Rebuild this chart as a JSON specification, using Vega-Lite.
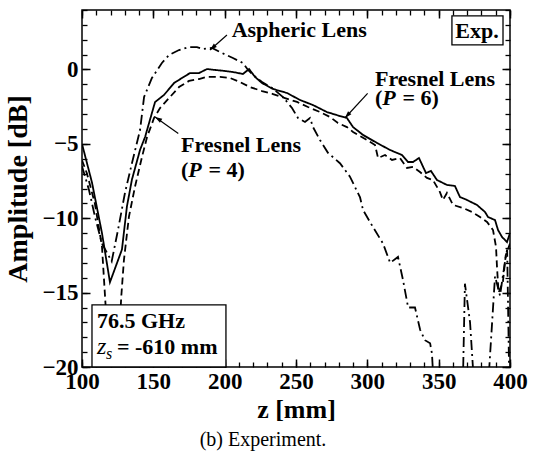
{
  "$schema": "https://vega.github.io/schema/vega-lite/v6.json",
  "width": 428,
  "height": 357,
  "autosize": {"type": "none"},
  "padding": {"left": 82, "top": 10, "right": 30, "bottom": 85},
  "background": "white",
  "title": {"text": "(b) Experiment.", "orient": "bottom", "anchor": "middle", "frame": "group", "dx": -33, "offset": 8, "font": "Liberation Serif", "fontSize": 20, "fontWeight": "normal", "color": "black"},
  "config": {
    "font": "Liberation Serif",
    "view": {"stroke": "black", "strokeWidth": 1.5},
    "axis": {"grid": false, "domain": false, "labelColor": "black", "titleColor": "black", "tickColor": "black"}
  },
  "datasets": {
    "curves": [
      {"s": "P6", "z": 100, "a": -5.0}, {"s": "P6", "z": 107, "a": -7.6}, {"s": "P6", "z": 114, "a": -11.0}, {"s": "P6", "z": 119.6, "a": -14.3}, {"s": "P6", "z": 128, "a": -12.1}, {"s": "P6", "z": 131.5, "a": -9.2}, {"s": "P6", "z": 135, "a": -7.4}, {"s": "P6", "z": 140.7, "a": -5.4}, {"s": "P6", "z": 144.2, "a": -4.54}, {"s": "P6", "z": 151.2, "a": -2.19}, {"s": "P6", "z": 157.5, "a": -1.71}, {"s": "P6", "z": 164.5, "a": -0.91}, {"s": "P6", "z": 170.1, "a": -0.57}, {"s": "P6", "z": 175.7, "a": -0.24}, {"s": "P6", "z": 182, "a": -0.24}, {"s": "P6", "z": 187.6, "a": 0.03}, {"s": "P6", "z": 193.2, "a": -0.03}, {"s": "P6", "z": 200.2, "a": -0.1}, {"s": "P6", "z": 205.8, "a": -0.17}, {"s": "P6", "z": 212.8, "a": -0.3}, {"s": "P6", "z": 217.1, "a": 0.03}, {"s": "P6", "z": 221.3, "a": -0.5}, {"s": "P6", "z": 226.2, "a": -0.91}, {"s": "P6", "z": 233.9, "a": -1.31}, {"s": "P6", "z": 243.7, "a": -1.58}, {"s": "P6", "z": 252.8, "a": -2.05}, {"s": "P6", "z": 261.9, "a": -2.39}, {"s": "P6", "z": 271.7, "a": -2.86}, {"s": "P6", "z": 280.8, "a": -3.13}, {"s": "P6", "z": 285.7, "a": -3.26}, {"s": "P6", "z": 290, "a": -3.87}, {"s": "P6", "z": 297, "a": -4.4}, {"s": "P6", "z": 306.8, "a": -4.94}, {"s": "P6", "z": 315.9, "a": -5.41}, {"s": "P6", "z": 324.3, "a": -5.75}, {"s": "P6", "z": 328.5, "a": -6.22}, {"s": "P6", "z": 332, "a": -6.22}, {"s": "P6", "z": 336.2, "a": -5.95}, {"s": "P6", "z": 341.1, "a": -6.96}, {"s": "P6", "z": 344.6, "a": -6.82}, {"s": "P6", "z": 348.8, "a": -7.43}, {"s": "P6", "z": 355.8, "a": -7.76}, {"s": "P6", "z": 361.4, "a": -7.83}, {"s": "P6", "z": 364.9, "a": -8.57}, {"s": "P6", "z": 369.8, "a": -8.77}, {"s": "P6", "z": 376.9, "a": -9.11}, {"s": "P6", "z": 382.5, "a": -9.58}, {"s": "P6", "z": 384.6, "a": -9.92}, {"s": "P6", "z": 389.5, "a": -10.12}, {"s": "P6", "z": 391.6, "a": -10.79}, {"s": "P6", "z": 394.4, "a": -11.26}, {"s": "P6", "z": 397.9, "a": -11.6}, {"s": "P6", "z": 400, "a": -11.0},
      {"s": "P4", "z": 100, "a": -6.1}, {"s": "P4", "z": 103.5, "a": -7.0}, {"s": "P4", "z": 109, "a": -9.0}, {"s": "P4", "z": 114, "a": -11.9}, {"s": "P4", "z": 116.5, "a": -15.8}, {"s": "P4", "z": 119, "a": -19.5}, {"s": "P4", "z": 122, "a": -20.5}, {"s": "P4", "z": 126, "a": -18.0}, {"s": "P4", "z": 127.5, "a": -15.3}, {"s": "P4", "z": 129.4, "a": -12.8}, {"s": "P4", "z": 132.9, "a": -9.9}, {"s": "P4", "z": 137.1, "a": -7.9}, {"s": "P4", "z": 142, "a": -5.9}, {"s": "P4", "z": 145.6, "a": -4.54}, {"s": "P4", "z": 150.5, "a": -3.26}, {"s": "P4", "z": 154.7, "a": -2.59}, {"s": "P4", "z": 161, "a": -1.92}, {"s": "P4", "z": 168, "a": -1.18}, {"s": "P4", "z": 175, "a": -0.77}, {"s": "P4", "z": 182, "a": -0.64}, {"s": "P4", "z": 187.6, "a": -0.5}, {"s": "P4", "z": 196.7, "a": -0.5}, {"s": "P4", "z": 203.7, "a": -0.57}, {"s": "P4", "z": 210.7, "a": -0.84}, {"s": "P4", "z": 217.8, "a": -1.18}, {"s": "P4", "z": 226.2, "a": -1.45}, {"s": "P4", "z": 233.9, "a": -1.65}, {"s": "P4", "z": 242.3, "a": -1.92}, {"s": "P4", "z": 250.7, "a": -2.18}, {"s": "P4", "z": 258.4, "a": -2.52}, {"s": "P4", "z": 266.8, "a": -2.86}, {"s": "P4", "z": 273.8, "a": -3.19}, {"s": "P4", "z": 279.4, "a": -3.6}, {"s": "P4", "z": 285.7, "a": -3.87}, {"s": "P4", "z": 290, "a": -4.2}, {"s": "P4", "z": 299.8, "a": -4.74}, {"s": "P4", "z": 305.4, "a": -5.08}, {"s": "P4", "z": 307.5, "a": -5.95}, {"s": "P4", "z": 312.4, "a": -5.75}, {"s": "P4", "z": 317.3, "a": -6.08}, {"s": "P4", "z": 322.9, "a": -5.95}, {"s": "P4", "z": 327.8, "a": -6.62}, {"s": "P4", "z": 332, "a": -6.55}, {"s": "P4", "z": 336.9, "a": -6.89}, {"s": "P4", "z": 341.8, "a": -7.29}, {"s": "P4", "z": 346, "a": -7.43}, {"s": "P4", "z": 350.9, "a": -8.24}, {"s": "P4", "z": 353, "a": -8.77}, {"s": "P4", "z": 355.8, "a": -8.3}, {"s": "P4", "z": 360, "a": -9.1}, {"s": "P4", "z": 367, "a": -9.31}, {"s": "P4", "z": 373.4, "a": -9.58}, {"s": "P4", "z": 379, "a": -9.92}, {"s": "P4", "z": 383.9, "a": -10.25}, {"s": "P4", "z": 388.1, "a": -10.79}, {"s": "P4", "z": 390.2, "a": -11.93}, {"s": "P4", "z": 390.9, "a": -13.3}, {"s": "P4", "z": 392, "a": -15.0}, {"s": "P4", "z": 395, "a": -14.3}, {"s": "P4", "z": 397, "a": -12.5}, {"s": "P4", "z": 400, "a": -11.7},
      {"s": "Asph", "z": 100, "a": -6.5}, {"s": "Asph", "z": 104.9, "a": -8.1}, {"s": "Asph", "z": 109.1, "a": -9.9}, {"s": "Asph", "z": 114, "a": -11.7}, {"s": "Asph", "z": 120.8, "a": -12.9}, {"s": "Asph", "z": 125.2, "a": -10.8}, {"s": "Asph", "z": 130.1, "a": -8.3}, {"s": "Asph", "z": 135, "a": -6.3}, {"s": "Asph", "z": 140.7, "a": -4.07}, {"s": "Asph", "z": 143.5, "a": -1.85}, {"s": "Asph", "z": 149, "a": -0.57}, {"s": "Asph", "z": 156, "a": 0.44}, {"s": "Asph", "z": 161, "a": 0.97}, {"s": "Asph", "z": 168, "a": 1.31}, {"s": "Asph", "z": 175, "a": 1.51}, {"s": "Asph", "z": 180.6, "a": 1.51}, {"s": "Asph", "z": 184.8, "a": 1.38}, {"s": "Asph", "z": 191.1, "a": 1.45}, {"s": "Asph", "z": 198.1, "a": 1.11}, {"s": "Asph", "z": 205.8, "a": 0.77}, {"s": "Asph", "z": 212.8, "a": 0.44}, {"s": "Asph", "z": 216.4, "a": -0.03}, {"s": "Asph", "z": 219.9, "a": -0.37}, {"s": "Asph", "z": 226.2, "a": -0.84}, {"s": "Asph", "z": 233.2, "a": -1.24}, {"s": "Asph", "z": 240.9, "a": -1.85}, {"s": "Asph", "z": 247.2, "a": -2.59}, {"s": "Asph", "z": 251.4, "a": -3.26}, {"s": "Asph", "z": 256.3, "a": -3.53}, {"s": "Asph", "z": 259.8, "a": -3.26}, {"s": "Asph", "z": 261.9, "a": -3.87}, {"s": "Asph", "z": 266.8, "a": -4.74}, {"s": "Asph", "z": 272.4, "a": -5.6}, {"s": "Asph", "z": 280.8, "a": -6.3}, {"s": "Asph", "z": 287.8, "a": -7.2}, {"s": "Asph", "z": 294.9, "a": -8.6}, {"s": "Asph", "z": 297, "a": -9.45}, {"s": "Asph", "z": 304, "a": -10.6}, {"s": "Asph", "z": 311, "a": -11.7}, {"s": "Asph", "z": 316, "a": -13.0}, {"s": "Asph", "z": 321.5, "a": -12.6}, {"s": "Asph", "z": 325, "a": -14.15}, {"s": "Asph", "z": 328.6, "a": -16.0}, {"s": "Asph", "z": 333.4, "a": -16.0}, {"s": "Asph", "z": 337, "a": -17.5}, {"s": "Asph", "z": 340.4, "a": -18.2}, {"s": "Asph", "z": 344, "a": -18.4}, {"s": "Asph", "z": 345.3, "a": -19.1}, {"s": "Asph", "z": 346, "a": -20.3}, {"s": "Asph", "z": 350, "a": -23}, {"s": "Asph", "z": 364, "a": -23}, {"s": "Asph", "z": 367.2, "a": -20}, {"s": "Asph", "z": 368.4, "a": -14.4}, {"s": "Asph", "z": 372, "a": -17.0}, {"s": "Asph", "z": 374, "a": -20}, {"s": "Asph", "z": 378, "a": -23}, {"s": "Asph", "z": 384, "a": -23}, {"s": "Asph", "z": 385.5, "a": -20}, {"s": "Asph", "z": 389.5, "a": -13.9}, {"s": "Asph", "z": 393, "a": -15.2}, {"s": "Asph", "z": 396.5, "a": -12.9}, {"s": "Asph", "z": 398, "a": -12.1}, {"s": "Asph", "z": 399.5, "a": -21}, {"s": "Asph", "z": 400, "a": -22}
    ],
    "boxes": [
      {"x1": 359.3, "x2": 395.1, "y1": 3.6, "y2": 1.65},
      {"x1": 107, "x2": 200.9, "y1": -15.83, "y2": -20}
    ],
    "boldtext": [
      {"x": 204.9, "y": 2.18, "t": "Aspheric Lens"},
      {"x": 305.4, "y": -1.11, "t": "Fresnel Lens"},
      {"x": 305.4, "y": -2.4, "t": "("},
      {"x": 324.7, "y": -2.4, "t": "= 6)"},
      {"x": 169.4, "y": -5.55, "t": "Fresnel Lens"},
      {"x": 169.4, "y": -7.2, "t": "("},
      {"x": 188.7, "y": -7.2, "t": "= 4)"},
      {"x": 361.6, "y": 2.12, "t": "Exp."},
      {"x": 110.5, "y": -17.38, "t": "76.5 GHz"},
      {"x": 124.5, "y": -19.13, "t": "= -610 mm"}
    ],
    "italicbold": [
      {"x": 310.5, "y": -2.4, "t": "P"},
      {"x": 174.5, "y": -7.2, "t": "P"}
    ],
    "arrows": [
      {"x1": 201.6, "y1": 2.32, "x2": 189.7, "y2": 1.31},
      {"x1": 300.2, "y1": -1.6, "x2": 284.3, "y2": -3.26},
      {"x1": 167.5, "y1": -4.3, "x2": 151.2, "y2": -3.19}
    ]
  },
  "resolve": {"axis": {"x": "independent", "y": "independent"}},
  "layer": [
    {
      "data": {"name": "curves"},
      "mark": {"type": "line", "clip": true, "color": "black", "strokeWidth": 1.8},
      "encoding": {
        "x": {"field": "z", "type": "quantitative", "scale": {"domain": [100, 400], "nice": false, "zero": false},
          "axis": {"orient": "bottom", "values": [100, 150, 200, 250, 300, 350, 400], "ticks": false, "labelFlush": false, "labelFont": "Liberation Serif", "labelFontWeight": "bold", "labelFontSize": 23, "labelPadding": 3, "title": "z [mm]", "titleFont": "Liberation Serif", "titleFontSize": 26, "titleFontWeight": "bold", "titlePadding": 3}},
        "y": {"field": "a", "type": "quantitative", "scale": {"domain": [-20, 4], "nice": false, "zero": false},
          "axis": {"orient": "left", "values": [-20, -15, -10, -5, 0], "ticks": false, "labelFont": "Liberation Serif", "labelFontWeight": "bold", "labelFontSize": 23, "labelPadding": 4, "title": "Amplitude [dB]", "titleFont": "Liberation Serif", "titleFontSize": 28, "titleFontWeight": "bold", "titlePadding": 9}},
        "strokeDash": {"field": "s", "type": "nominal", "scale": {"domain": ["P6", "P4", "Asph"], "range": [[1, 0], [7, 4], [10, 4, 2, 4]]}, "legend": null},
        "detail": {"field": "s"}
      }
    },
    {
      "data": {"name": "boxes"},
      "mark": {"type": "rect", "fill": "white", "stroke": "black", "strokeWidth": 1.3},
      "encoding": {
        "x": {"field": "x1", "type": "quantitative", "scale": {"domain": [100, 400], "nice": false, "zero": false},
          "axis": {"orient": "bottom", "offset": -8, "values": [100, 150, 200, 250, 300, 350, 400], "labels": false, "title": null, "tickSize": 8, "tickWidth": 1.5}},
        "x2": {"field": "x2"},
        "y": {"field": "y1", "type": "quantitative", "scale": {"domain": [-20, 4], "nice": false, "zero": false},
          "axis": {"orient": "left", "offset": -8, "values": [-20, -15, -10, -5, 0], "labels": false, "title": null, "tickSize": 8, "tickWidth": 1.5}},
        "y2": {"field": "y2"}
      }
    },
    {
      "data": {"name": "boldtext"},
      "mark": {"type": "text", "align": "left", "baseline": "alphabetic", "font": "Liberation Serif", "fontWeight": "bold", "fontSize": 22, "color": "black"},
      "encoding": {
        "x": {"field": "x", "type": "quantitative", "scale": {"domain": [100, 400], "nice": false, "zero": false},
          "axis": {"orient": "bottom", "offset": -5, "values": [100, 110, 120, 130, 140, 150, 160, 170, 180, 190, 200, 210, 220, 230, 240, 250, 260, 270, 280, 290, 300, 310, 320, 330, 340, 350, 360, 370, 380, 390, 400], "labels": false, "title": null, "tickSize": 5, "tickWidth": 1.3}},
        "y": {"field": "y", "type": "quantitative", "scale": {"domain": [-20, 4], "nice": false, "zero": false},
          "axis": {"orient": "left", "offset": -5, "values": [-20, -19, -18, -17, -16, -15, -14, -13, -12, -11, -10, -9, -8, -7, -6, -5, -4, -3, -2, -1, 0, 1, 2, 3, 4], "labels": false, "title": null, "tickSize": 5, "tickWidth": 1.3}},
        "text": {"field": "t"}
      }
    },
    {
      "data": {"name": "italicbold"},
      "mark": {"type": "text", "align": "left", "baseline": "alphabetic", "font": "Liberation Serif", "fontWeight": "bold", "fontStyle": "italic", "fontSize": 22, "color": "black"},
      "encoding": {
        "x": {"field": "x", "type": "quantitative", "scale": {"domain": [100, 400], "nice": false, "zero": false},
          "axis": {"orient": "top", "offset": -8, "values": [100, 150, 200, 250, 300, 350, 400], "labels": false, "title": null, "tickSize": 8, "tickWidth": 1.5}},
        "y": {"field": "y", "type": "quantitative", "scale": {"domain": [-20, 4], "nice": false, "zero": false},
          "axis": {"orient": "right", "offset": -8, "values": [-20, -15, -10, -5, 0], "labels": false, "title": null, "tickSize": 8, "tickWidth": 1.5}},
        "text": {"field": "t"}
      }
    },
    {
      "data": {"name": "arrows"},
      "mark": {"type": "rule", "color": "black", "strokeWidth": 1.2},
      "encoding": {
        "x": {"field": "x1", "type": "quantitative", "scale": {"domain": [100, 400], "nice": false, "zero": false},
          "axis": {"orient": "top", "offset": -5, "values": [100, 110, 120, 130, 140, 150, 160, 170, 180, 190, 200, 210, 220, 230, 240, 250, 260, 270, 280, 290, 300, 310, 320, 330, 340, 350, 360, 370, 380, 390, 400], "labels": false, "title": null, "tickSize": 5, "tickWidth": 1.3}},
        "y": {"field": "y1", "type": "quantitative", "scale": {"domain": [-20, 4], "nice": false, "zero": false},
          "axis": {"orient": "right", "offset": -5, "values": [-20, -19, -18, -17, -16, -15, -14, -13, -12, -11, -10, -9, -8, -7, -6, -5, -4, -3, -2, -1, 0, 1, 2, 3, 4], "labels": false, "title": null, "tickSize": 5, "tickWidth": 1.3}},
        "x2": {"field": "x2"},
        "y2": {"field": "y2"}
      }
    },
    {
      "data": {"values": [{"x": 189.7, "y": 1.31}]},
      "mark": {"type": "point", "shape": "M0,0L0.5,1.6L-0.5,1.6Z", "filled": true, "color": "black", "size": 80, "opacity": 1, "angle": 228.6},
      "encoding": {
        "x": {"field": "x", "type": "quantitative", "scale": {"domain": [100, 400], "nice": false, "zero": false}, "axis": null},
        "y": {"field": "y", "type": "quantitative", "scale": {"domain": [-20, 4], "nice": false, "zero": false}, "axis": null}
      }
    },
    {
      "data": {"values": [{"x": 284.3, "y": -3.26}]},
      "mark": {"type": "point", "shape": "M0,0L0.5,1.6L-0.5,1.6Z", "filled": true, "color": "black", "size": 80, "opacity": 1, "angle": 221.8},
      "encoding": {
        "x": {"field": "x", "type": "quantitative", "scale": {"domain": [100, 400], "nice": false, "zero": false}, "axis": null},
        "y": {"field": "y", "type": "quantitative", "scale": {"domain": [-20, 4], "nice": false, "zero": false}, "axis": null}
      }
    },
    {
      "data": {"values": [{"x": 151.2, "y": -3.19}]},
      "mark": {"type": "point", "shape": "M0,0L0.5,1.6L-0.5,1.6Z", "filled": true, "color": "black", "size": 80, "opacity": 1, "angle": 302},
      "encoding": {
        "x": {"field": "x", "type": "quantitative", "scale": {"domain": [100, 400], "nice": false, "zero": false}, "axis": null},
        "y": {"field": "y", "type": "quantitative", "scale": {"domain": [-20, 4], "nice": false, "zero": false}, "axis": null}
      }
    },
    {
      "data": {"values": [{"x": 110.5, "y": -19.13, "t": "z"}]},
      "mark": {"type": "text", "align": "left", "baseline": "alphabetic", "font": "Liberation Serif", "fontStyle": "italic", "fontSize": 24, "color": "black"},
      "encoding": {
        "x": {"field": "x", "type": "quantitative", "scale": {"domain": [100, 400], "nice": false, "zero": false}, "axis": null},
        "y": {"field": "y", "type": "quantitative", "scale": {"domain": [-20, 4], "nice": false, "zero": false}, "axis": null},
        "text": {"field": "t"}
      }
    },
    {
      "data": {"values": [{"x": 116.8, "y": -19.46, "t": "s"}]},
      "mark": {"type": "text", "align": "left", "baseline": "alphabetic", "font": "Liberation Serif", "fontStyle": "italic", "fontSize": 16, "color": "black"},
      "encoding": {
        "x": {"field": "x", "type": "quantitative", "scale": {"domain": [100, 400], "nice": false, "zero": false}, "axis": null},
        "y": {"field": "y", "type": "quantitative", "scale": {"domain": [-20, 4], "nice": false, "zero": false}, "axis": null},
        "text": {"field": "t"}
      }
    }
  ]
}
